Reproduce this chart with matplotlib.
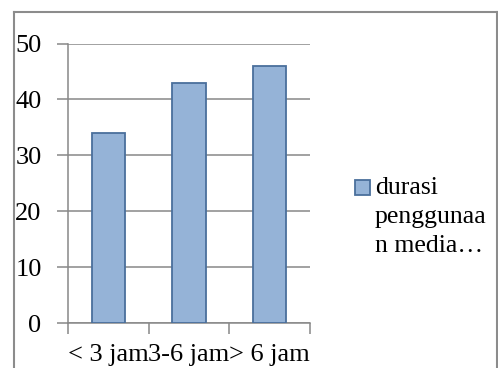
import matplotlib.pyplot as plt
from matplotlib.patches import Rectangle
from matplotlib.lines import Line2D

categories = ['< 3 jam', '3-6 jam', '> 6 jam']
values = [34, 43, 46]
legend_label = 'durasi\npenggunaa\nn media\u2026'
yticks = [0, 10, 20, 30, 40, 50]

plt.rcParams['font.family'] = ['Liberation Serif', 'DejaVu Serif']

W, H = 498, 368
fig = plt.figure(figsize=(W / 100, H / 100), dpi=100)
ax = fig.add_axes([68 / W, 1 - 323 / H, (310 - 68) / W, (323 - 43.5) / H])

fill = '#95b3d7'
edge = '#4a6f9c'
grid = '#888888'

ax.bar(range(len(values)), values, width=0.41, color=fill, edgecolor=edge,
       linewidth=1.3, zorder=3)
ax.set_xlim(-0.5, 2.5)
ax.set_ylim(0, 50)
ax.set_yticks(yticks)
ax.yaxis.grid(True, color=grid, linewidth=1.1, zorder=0)
ax.set_xticks([-0.5, 0.5, 1.5, 2.5], minor=False)
ax.set_xticklabels([])
ax.set_xticks(range(len(categories)), minor=True)
ax.set_xticklabels(categories, minor=True)
ax.tick_params(axis='x', which='minor', length=0, pad=15, labelsize=19)
ax.tick_params(axis='x', which='major', length=8, color=grid, width=1.1,
               direction='out')
ax.tick_params(axis='y', length=8, color=grid, width=1.1, pad=11,
               labelsize=19, direction='out')
for side in ['top', 'right']:
    ax.spines[side].set_visible(False)
for side in ['left', 'bottom']:
    ax.spines[side].set_color(grid)
    ax.spines[side].set_linewidth(1.1)

# legend drawn by hand, handle aligned with the first line
fig.patches.append(Rectangle((355 / W, 1 - 195 / H), 15 / W, 15 / H,
                             transform=fig.transFigure, facecolor=fill,
                             edgecolor=edge, linewidth=1.3))
fig.text(375 / W, 1 - 177 / H, legend_label, fontsize=18.5, va='top',
         ha='left', linespacing=1.42)

# chart frame
frame = dict(color='#8c8c8c', linewidth=1.5, transform=fig.transFigure)
fig.lines.append(Line2D([13.5 / W, 13.5 / W], [0, 1 - 12 / H], **frame))
fig.lines.append(Line2D([13.5 / W, 497 / W], [1 - 12 / H, 1 - 12 / H], **frame))
fig.lines.append(Line2D([497 / W, 497 / W], [0, 1 - 12 / H], **frame))

fig.savefig('out.png', dpi=100)
